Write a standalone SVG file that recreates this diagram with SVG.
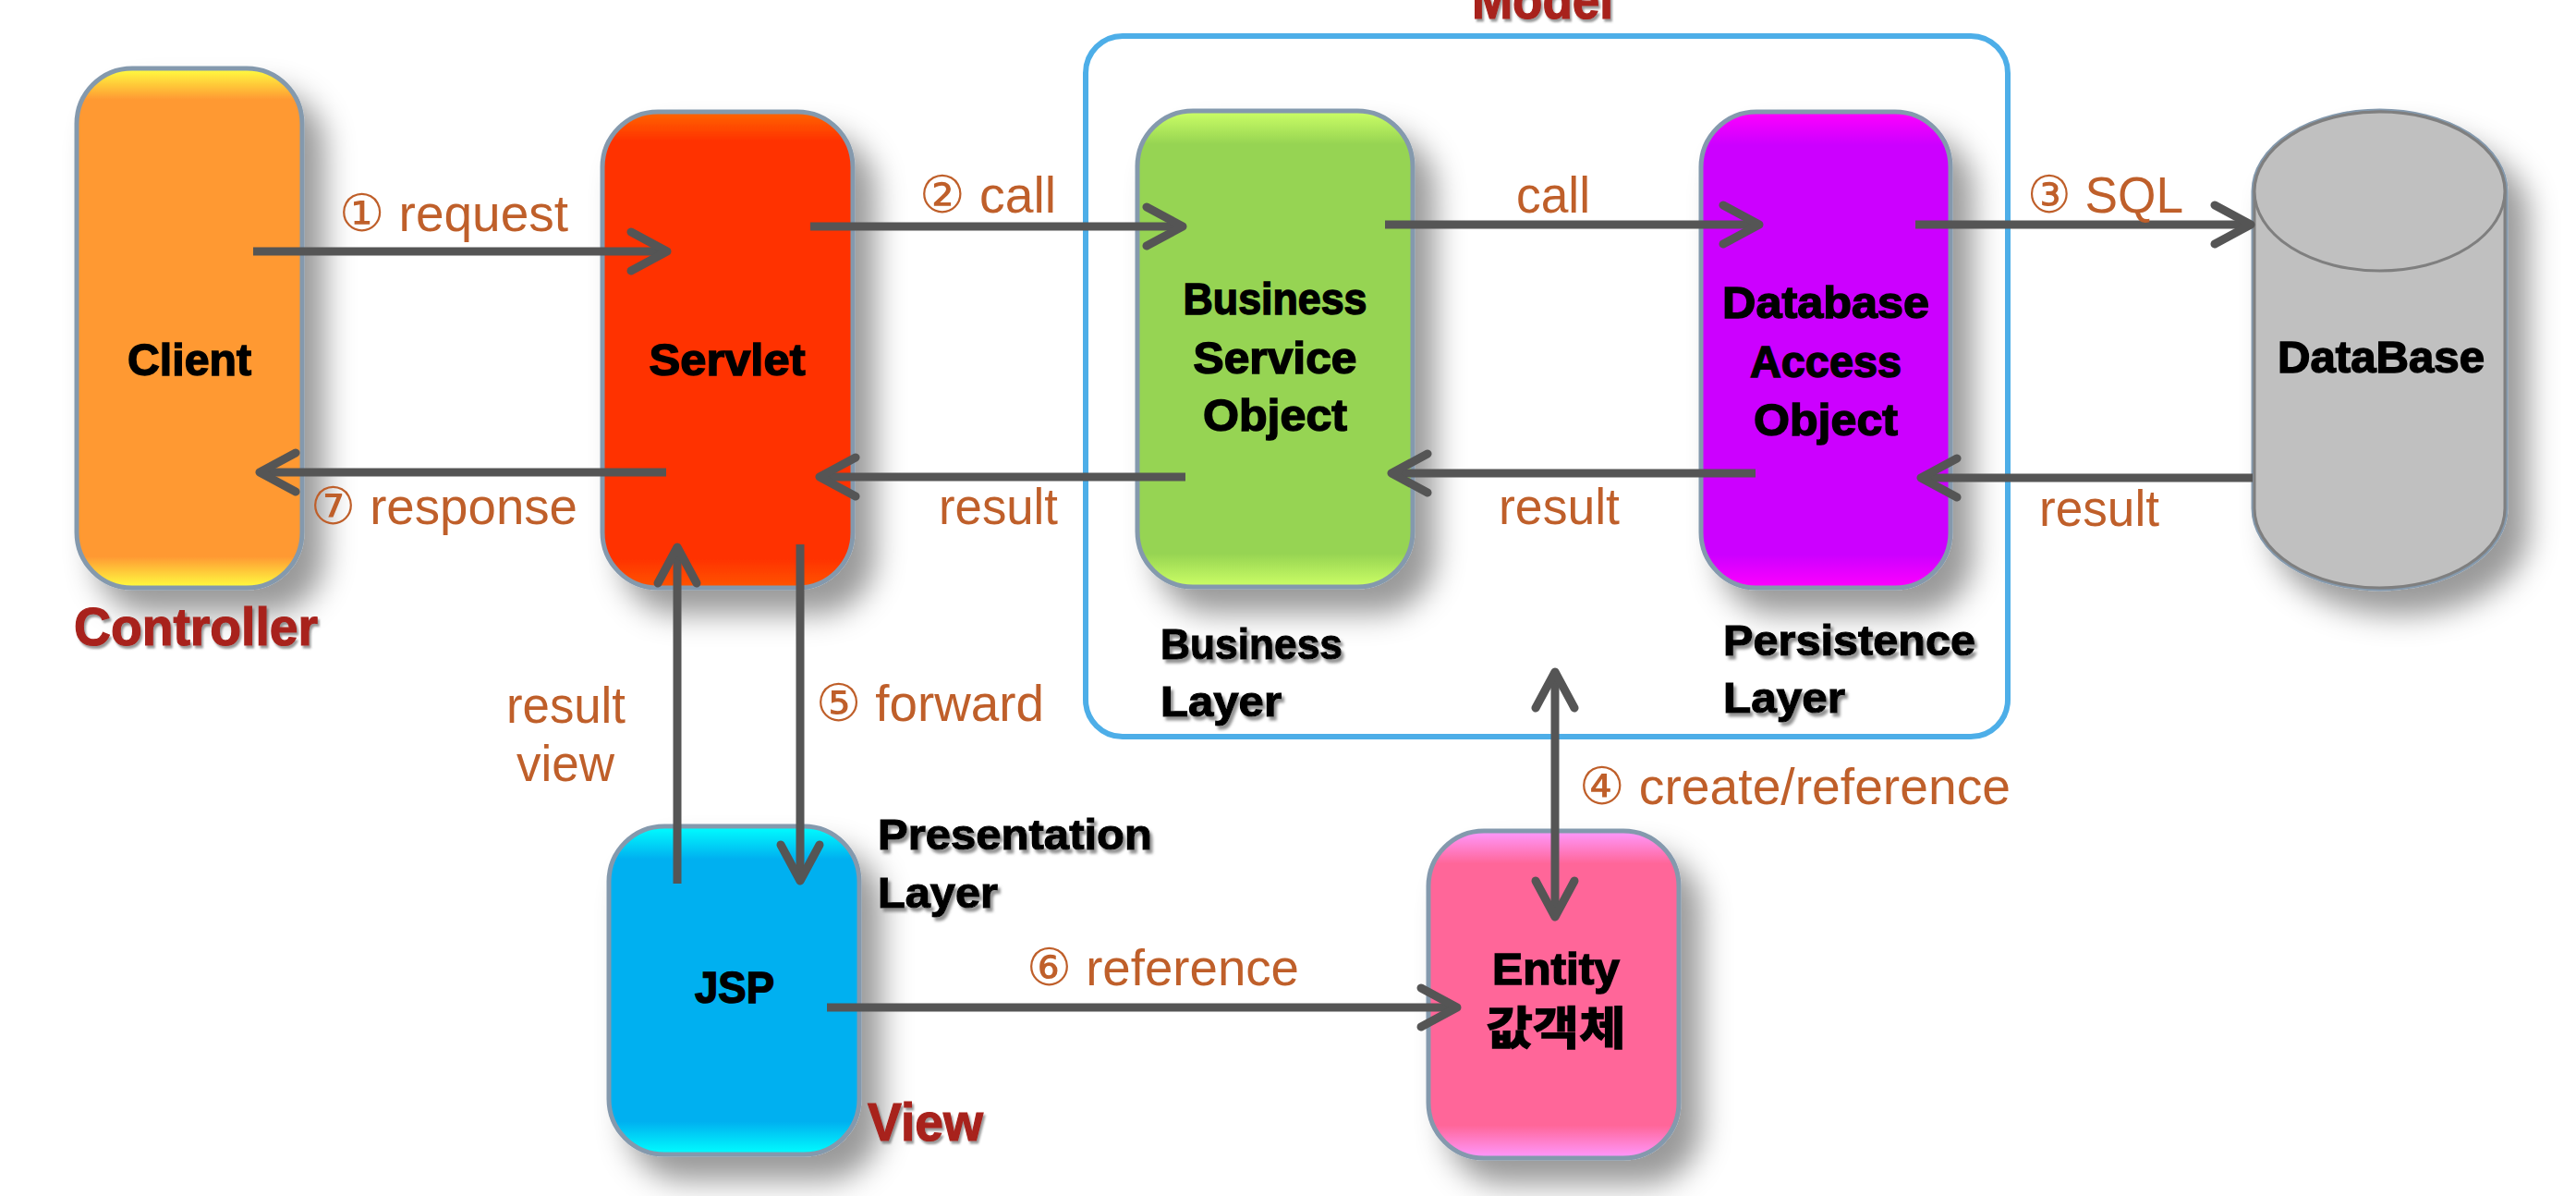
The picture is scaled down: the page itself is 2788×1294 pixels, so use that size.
<svg xmlns="http://www.w3.org/2000/svg" width="2788" height="1294" viewBox="0 0 2788 1294">
<style>
.lbl{font-family:"Liberation Sans","DejaVu Sans","Noto Sans CJK KR",sans-serif;font-size:56px;fill:#BF5F2A}
.nt{font-family:"Liberation Sans","Noto Sans CJK KR",sans-serif;font-weight:bold;font-size:49px;fill:#000;stroke:#000;stroke-width:1.5;text-anchor:middle}
.ly{font-family:"Liberation Sans",sans-serif;font-weight:bold;font-size:47px;fill:#000;stroke:#000;stroke-width:1.2;filter:url(#tsh)}
.red{font-family:"Liberation Sans",sans-serif;font-weight:bold;font-size:57px;fill:#A8221B;stroke:#A8221B;stroke-width:1.2;filter:url(#tsh2)}
.box{stroke:#8499AD;stroke-width:5;filter:url(#sh)}
.con{stroke:#555;stroke-width:9;fill:none}
</style>
<defs>
<filter id="sh" x="-30%" y="-20%" width="170%" height="150%">
<feDropShadow dx="22" dy="26" stdDeviation="16" flood-color="#000" flood-opacity="0.4"/>
</filter>
<filter id="tsh" x="-10%" y="-30%" width="130%" height="170%">
<feDropShadow dx="3" dy="4" stdDeviation="1.5" flood-color="#777" flood-opacity="0.8"/>
</filter>
<filter id="tsh2" x="-10%" y="-30%" width="130%" height="170%">
<feDropShadow dx="2" dy="3" stdDeviation="1" flood-color="#555" flood-opacity="0.6"/>
</filter>
<linearGradient id="gClient" x1="0" y1="0" x2="0" y2="1">
<stop offset="0" stop-color="#FFFF40"/><stop offset="0.06" stop-color="#FF9933"/><stop offset="0.94" stop-color="#FF9933"/><stop offset="1" stop-color="#FFFF40"/>
</linearGradient>
<linearGradient id="gServlet" x1="0" y1="0" x2="0" y2="1">
<stop offset="0" stop-color="#FF6600"/><stop offset="0.06" stop-color="#FF3300"/><stop offset="0.94" stop-color="#FF3300"/><stop offset="1" stop-color="#FF5500"/>
</linearGradient>
<linearGradient id="gBso" x1="0" y1="0" x2="0" y2="1">
<stop offset="0" stop-color="#CCFF66"/><stop offset="0.07" stop-color="#96D452"/><stop offset="0.93" stop-color="#96D452"/><stop offset="1" stop-color="#CCFF66"/>
</linearGradient>
<linearGradient id="gDao" x1="0" y1="0" x2="0" y2="1">
<stop offset="0" stop-color="#FF00FF"/><stop offset="0.07" stop-color="#CC00FF"/><stop offset="0.93" stop-color="#CC00FF"/><stop offset="1" stop-color="#FF00FF"/>
</linearGradient>
<linearGradient id="gJsp" x1="0" y1="0" x2="0" y2="1">
<stop offset="0" stop-color="#00FFFF"/><stop offset="0.1" stop-color="#00B0F0"/><stop offset="0.9" stop-color="#00B0F0"/><stop offset="1" stop-color="#00FFFF"/>
</linearGradient>
<linearGradient id="gEnt" x1="0" y1="0" x2="0" y2="1">
<stop offset="0" stop-color="#FF99FF"/><stop offset="0.1" stop-color="#FF6699"/><stop offset="0.9" stop-color="#FF6699"/><stop offset="1" stop-color="#FF99FF"/>
</linearGradient>
<marker id="ah" markerUnits="userSpaceOnUse" orient="auto-start-reverse" refX="0" refY="0" markerWidth="60" markerHeight="60" viewBox="-50 -30 60 60" overflow="visible">
<path d="M-39,-21 L0,0 L-39,21" fill="none" stroke="#555" stroke-width="9" stroke-linecap="round" stroke-linejoin="round"/>
</marker>
</defs>
<rect width="2788" height="1294" fill="#fff"/>

<g id="model">
<rect x="1175" y="39" width="998" height="758" rx="40" fill="none" stroke="#4DAEE8" stroke-width="6"/>
<text class="red" x="1593" y="20" textLength="153" lengthAdjust="spacingAndGlyphs">Model</text>
</g>

<g id="client">
<rect class="box" x="83" y="74" width="244" height="562" rx="60" fill="url(#gClient)"/>
<text class="nt" x="205" y="406" textLength="134" lengthAdjust="spacingAndGlyphs">Client</text>
<text class="red" x="80" y="698" textLength="264" lengthAdjust="spacingAndGlyphs">Controller</text>
</g>

<g id="servlet">
<rect class="box" x="652" y="121" width="271" height="515" rx="60" fill="url(#gServlet)"/>
<text class="nt" x="787" y="406" textLength="169" lengthAdjust="spacingAndGlyphs">Servlet</text>
</g>

<g id="bso">
<rect class="box" x="1231" y="120" width="298" height="515" rx="60" fill="url(#gBso)"/>
<text class="nt" x="1380" y="340" textLength="199" lengthAdjust="spacingAndGlyphs">Business</text>
<text class="nt" x="1380" y="404" textLength="177" lengthAdjust="spacingAndGlyphs">Service</text>
<text class="nt" x="1380" y="466" textLength="156" lengthAdjust="spacingAndGlyphs">Object</text>
<text class="ly" x="1256" y="713" textLength="197" lengthAdjust="spacingAndGlyphs">Business</text>
<text class="ly" x="1256" y="775" textLength="131" lengthAdjust="spacingAndGlyphs">Layer</text>
</g>

<g id="dao">
<rect class="box" x="1841" y="121" width="270" height="515" rx="60" fill="url(#gDao)"/>
<text class="nt" x="1976" y="344" textLength="224" lengthAdjust="spacingAndGlyphs">Database</text>
<text class="nt" x="1976" y="408" textLength="164" lengthAdjust="spacingAndGlyphs">Access</text>
<text class="nt" x="1976" y="471" textLength="156" lengthAdjust="spacingAndGlyphs">Object</text>
<text class="ly" x="1865" y="709" textLength="273" lengthAdjust="spacingAndGlyphs">Persistence</text>
<text class="ly" x="1865" y="771" textLength="132" lengthAdjust="spacingAndGlyphs">Layer</text>
</g>

<g id="database">
<g filter="url(#sh)">
<path d="M2440,207 L2440,550 A135.5,86 0 0 0 2711,550 L2711,207 A135.5,86 0 0 0 2440,207 Z" fill="#C0C0C0" stroke="#8499AD" stroke-width="7"/>
</g>
<path d="M2440,207 L2440,550 A135.5,86 0 0 0 2711,550 L2711,207 A135.5,86 0 0 0 2440,207 Z" fill="#C0C0C0" stroke="#7F7F7F" stroke-width="3"/>
<ellipse cx="2575.5" cy="207" rx="135.5" ry="86" fill="#C0C0C0" stroke="#7F7F7F" stroke-width="3"/>
<text class="nt" x="2577" y="403" textLength="224" lengthAdjust="spacingAndGlyphs">DataBase</text>
</g>

<g id="jsp">
<rect class="box" x="659" y="894" width="271" height="355" rx="60" fill="url(#gJsp)"/>
<text class="nt" x="795" y="1085" textLength="86" lengthAdjust="spacingAndGlyphs">JSP</text>
<text class="ly" x="950" y="919" textLength="297" lengthAdjust="spacingAndGlyphs">Presentation</text>
<text class="ly" x="950" y="982" textLength="130" lengthAdjust="spacingAndGlyphs">Layer</text>
<text class="red" x="939" y="1234" textLength="125" lengthAdjust="spacingAndGlyphs">View</text>
</g>

<g id="entity">
<rect class="box" x="1546" y="899" width="271" height="354" rx="60" fill="url(#gEnt)"/>
<text class="nt" x="1684" y="1065" textLength="138" lengthAdjust="spacingAndGlyphs">Entity</text>
<text class="nt" x="1684" y="1130" textLength="151" lengthAdjust="spacingAndGlyphs">값객체</text>
</g>

<g id="connectors">
<line class="con" x1="274" y1="272" x2="722" y2="272" marker-end="url(#ah)"/>
<line class="con" x1="721" y1="511" x2="281" y2="511" marker-end="url(#ah)"/>
<line class="con" x1="877" y1="245" x2="1280" y2="245" marker-end="url(#ah)"/>
<line class="con" x1="1283" y1="516" x2="887" y2="516" marker-end="url(#ah)"/>
<line class="con" x1="1499" y1="243" x2="1904" y2="243" marker-end="url(#ah)"/>
<line class="con" x1="1900" y1="512" x2="1506" y2="512" marker-end="url(#ah)"/>
<line class="con" x1="2073" y1="243" x2="2436" y2="243" marker-end="url(#ah)"/>
<line class="con" x1="2438" y1="517" x2="2079" y2="517" marker-end="url(#ah)"/>
<line class="con" x1="733" y1="956" x2="733" y2="592" marker-end="url(#ah)"/>
<line class="con" x1="866" y1="589" x2="866" y2="953" marker-end="url(#ah)"/>
<line class="con" x1="895" y1="1090" x2="1577" y2="1090" marker-end="url(#ah)"/>
<line class="con" x1="1683" y1="727" x2="1683" y2="992" marker-start="url(#ah)" marker-end="url(#ah)"/>
<text class="lbl" x="367" y="250" textLength="248" lengthAdjust="spacingAndGlyphs">① request</text>
<text class="lbl" x="336" y="567" textLength="289" lengthAdjust="spacingAndGlyphs">⑦ response</text>
<text class="lbl" x="995" y="230" textLength="148" lengthAdjust="spacingAndGlyphs">② call</text>
<text class="lbl" x="1016" y="567" textLength="129" lengthAdjust="spacingAndGlyphs">result</text>
<text class="lbl" x="1641" y="230" textLength="80" lengthAdjust="spacingAndGlyphs">call</text>
<text class="lbl" x="1622" y="567" textLength="131" lengthAdjust="spacingAndGlyphs">result</text>
<text class="lbl" x="2194" y="230" textLength="169" lengthAdjust="spacingAndGlyphs">③ SQL</text>
<text class="lbl" x="2207" y="569" textLength="130" lengthAdjust="spacingAndGlyphs">result</text>
<text class="lbl" x="548" y="782" textLength="129" lengthAdjust="spacingAndGlyphs">result</text>
<text class="lbl" x="559" y="845" textLength="106" lengthAdjust="spacingAndGlyphs">view</text>
<text class="lbl" x="883" y="780" textLength="247" lengthAdjust="spacingAndGlyphs">⑤ forward</text>
<text class="lbl" x="1111" y="1066" textLength="295" lengthAdjust="spacingAndGlyphs">⑥ reference</text>
<text class="lbl" x="1709" y="870" textLength="467" lengthAdjust="spacingAndGlyphs">④ create/reference</text>
</g>
</svg>
